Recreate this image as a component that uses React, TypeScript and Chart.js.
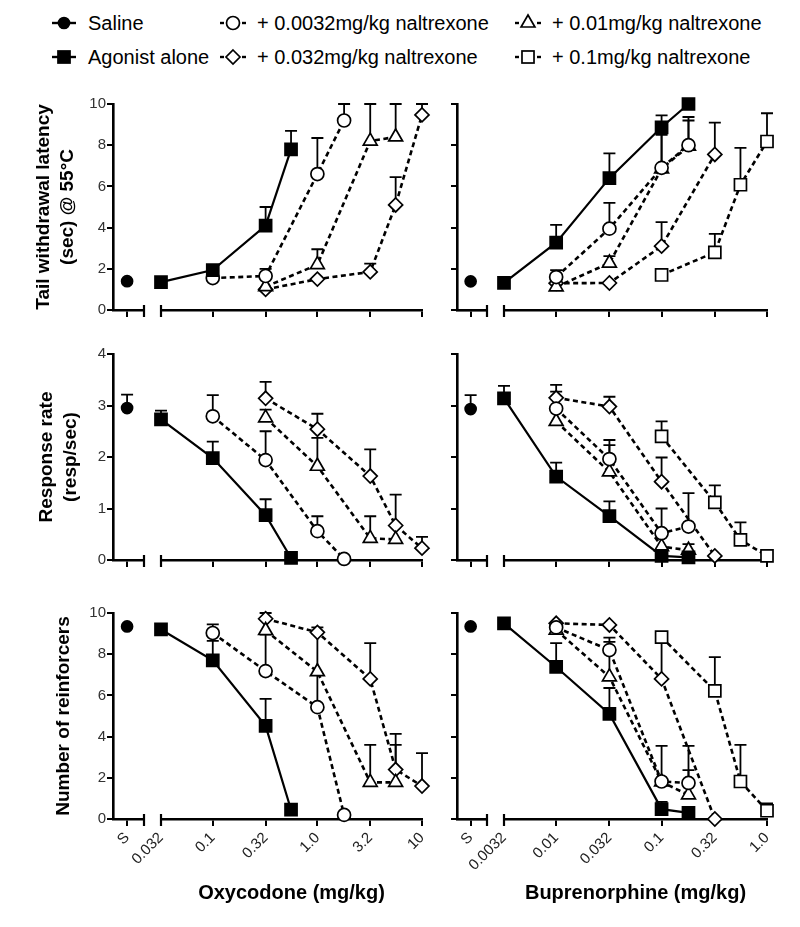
import React, { useEffect, useRef } from 'react';
import { Chart, registerables } from 'chart.js';

Chart.register(...registerables);

// ---------------- Axis ticks / labels ----------------
const OXY_TICKS = [0.032, 0.1, 0.32, 1.0, 3.2, 10];
const OXY_TICK_LABELS = ['0.032', '0.1', '0.32', '1.0', '3.2', '10'];
const BUP_TICKS = [0.0032, 0.01, 0.032, 0.1, 0.32, 1.0];
const BUP_TICK_LABELS = ['0.0032', '0.01', '0.032', '0.1', '0.32', '1.0'];
const SALINE_TICK_LABELS = ['S'];
const LATENCY_TICKS = [0, 2, 4, 6, 8, 10];
const RATE_TICKS = [0, 1, 2, 3, 4];
const REINF_TICKS = [0, 2, 4, 6, 8, 10];

const LAT_TITLE = ['Tail withdrawal latency', '(sec) @ 55°C'];
const RATE_TITLE = ['Response rate', '(resp/sec)'];
const REINF_TITLE = ['Number of reinforcers'];
const OXY_X_TITLE = 'Oxycodone (mg/kg)';
const BUP_X_TITLE = 'Buprenorphine (mg/kg)';

const LEGEND_LABELS = {
  saline: 'Saline',
  agonist: 'Agonist alone',
  n0032: '+ 0.0032mg/kg naltrexone',
  n032: '+ 0.032mg/kg naltrexone',
  n01: '+ 0.01mg/kg naltrexone',
  n1: '+ 0.1mg/kg naltrexone',
};

// ---------------- Doses ----------------
const oxyAgonistDose = [0.032, 0.1, 0.32, 0.56];
const oxyNal0032Dose = [0.1, 0.32, 1.0, 1.8];
const oxyNal01Dose = [0.32, 1.0, 3.2, 5.6];
const oxyNal032Dose = [0.32, 1.0, 3.2, 5.6, 10];

const bupAgonistDose = [0.0032, 0.01, 0.032, 0.1, 0.18];
const bupNal0032Dose = [0.01, 0.032, 0.1, 0.18];
const bupNal01Dose = [0.01, 0.032, 0.1, 0.18];
const bupNal032Dose = [0.01, 0.032, 0.1, 0.32];
const bupNal1Dose = [0.1, 0.32, 0.56, 1.0];

// ---------------- Oxycodone: tail withdrawal latency ----------------
const oxyLatSaline = [1.4];
const oxyLatSalineSem = [null];
const oxyLatAgonist = [1.35, 1.94, 4.1, 7.8];
const oxyLatAgonistSem = [null, 0.21, 0.9, 0.9];
const oxyLatNal0032 = [1.55, 1.65, 6.6, 9.2];
const oxyLatNal0032Sem = [null, 0.35, 1.75, 0.8];
const oxyLatNal01 = [1.13, 2.2, 8.2, 8.4];
const oxyLatNal01Sem = [null, 0.75, 1.8, 1.6];
const oxyLatNal032 = [1.0, 1.5, 1.85, 5.1, 9.47];
const oxyLatNal032Sem = [null, null, 0.4, 1.35, 0.53];

// ---------------- Oxycodone: response rate ----------------
const oxyRateSaline = [2.95];
const oxyRateSalineSem = [0.26];
const oxyRateAgonist = [2.73, 1.98, 0.87, 0.04];
const oxyRateAgonistSem = [0.17, 0.32, 0.31, null];
const oxyRateNal0032 = [2.79, 1.94, 0.56, 0.02];
const oxyRateNal0032Sem = [0.41, 0.56, 0.29, null];
const oxyRateNal01 = [2.76, 1.82, 0.42, 0.4];
const oxyRateNal01Sem = [0.16, 0.55, 0.43, null];
const oxyRateNal032 = [3.14, 2.54, 1.63, 0.67, 0.23];
const oxyRateNal032Sem = [0.32, 0.3, 0.52, 0.6, 0.22];

// ---------------- Oxycodone: number of reinforcers ----------------
const oxyReinfSaline = [9.35];
const oxyReinfSalineSem = [null];
const oxyReinfAgonist = [9.2, 7.7, 4.52, 0.45];
const oxyReinfAgonistSem = [null, 0.95, 1.31, null];
const oxyReinfNal0032 = [9.03, 7.18, 5.43, 0.2];
const oxyReinfNal0032Sem = [0.42, 1.77, 1.57, null];
const oxyReinfNal01 = [9.15, 7.15, 1.78, 1.78];
const oxyReinfNal01Sem = [null, 1.85, 1.82, 1.82];
const oxyReinfNal032 = [9.72, 9.06, 6.8, 2.4, 1.6];
const oxyReinfNal032Sem = [0.28, 0.24, 1.74, 1.73, 1.6];

// ---------------- Buprenorphine: tail withdrawal latency ----------------
const bupLatSaline = [1.39];
const bupLatSalineSem = [null];
const bupLatAgonist = [1.32, 3.27, 6.4, 8.87, 10];
const bupLatAgonistSem = [null, 0.86, 1.2, 0.58, null];
const bupLatNal0032 = [1.6, 3.95, 6.9, 8.0];
const bupLatNal0032Sem = [0.34, 1.25, 1.6, 1.37];
const bupLatNal01 = [1.12, 2.28, 6.85, 7.95];
const bupLatNal01Sem = [null, 0.34, 2.1, 1.25];
const bupLatNal032 = [1.3, 1.31, 3.1, 7.55];
const bupLatNal032Sem = [null, null, 1.17, 1.55];
const bupLatNal1 = [1.7, 2.8, 6.08, 8.18];
const bupLatNal1Sem = [null, 0.9, 1.79, 1.37];

// ---------------- Buprenorphine: response rate ----------------
const bupRateSaline = [2.93];
const bupRateSalineSem = [0.27];
const bupRateAgonist = [3.14, 1.62, 0.85, 0.08, 0.05];
const bupRateAgonistSem = [0.24, 0.27, 0.29, null, null];
const bupRateNal0032 = [2.94, 1.96, 0.52, 0.65];
const bupRateNal0032Sem = [0.33, 0.37, 0.48, 0.65];
const bupRateNal01 = [2.69, 1.71, 0.26, 0.19];
const bupRateNal01Sem = [null, 0.52, null, 0.12];
const bupRateNal032 = [3.15, 2.98, 1.52, 0.08];
const bupRateNal032Sem = [0.25, 0.19, 0.47, null];
const bupRateNal1 = [2.4, 1.12, 0.39, 0.08];
const bupRateNal1Sem = [0.29, 0.33, 0.34, null];

// ---------------- Buprenorphine: number of reinforcers ----------------
const bupReinfSaline = [9.35];
const bupReinfSalineSem = [null];
const bupReinfAgonist = [9.5, 7.38, 5.1, 0.48, 0.3];
const bupReinfAgonistSem = [null, 1.16, 1.26, 0.35, null];
const bupReinfNal0032 = [9.3, 8.2, 1.82, 1.75];
const bupReinfNal0032Sem = [null, 0.6, 1.73, 1.8];
const bupReinfNal01 = [9.17, 6.9, 1.8, 1.17];
const bupReinfNal01Sem = [null, 1.7, null, 1.2];
const bupReinfNal032 = [9.5, 9.42, 6.8, 0.0];
const bupReinfNal032Sem = [null, null, 1.9, null];
const bupReinfNal1 = [8.83, 6.22, 1.82, 0.4];
const bupReinfNal1Sem = [null, 1.64, 1.78, 0.36];

// ---------------- Styles & layout ----------------
const FONT = '"Liberation Sans", Arial, Helvetica, sans-serif';
const DASH = [5, 3.5];
const STYLES: any = {
  saline: { pointStyle: 'circle', radius: 5.5, fill: '#000', dash: [], width: 2.2 },
  agonist: { pointStyle: 'rect', radius: 8.5, fill: '#000', dash: [], width: 2.2 },
  n0032: { pointStyle: 'circle', radius: 6.5, fill: '#fff', dash: DASH, width: 2.6 },
  n01: { pointStyle: 'triangle', radius: 8, fill: '#fff', dash: DASH, width: 2.6 },
  n032: { pointStyle: 'rectRot', radius: 7, fill: '#fff', dash: DASH, width: 2.6 },
  n1: { pointStyle: 'rect', radius: 8.5, fill: '#fff', dash: DASH, width: 2.6 },
};

const ROWS = [
  { top: 104, bottom: 310, titlePad: 32 },
  { top: 354, bottom: 560, titlePad: 35 },
  { top: 613, bottom: 819, titlePad: 52 },
];
const COLS = [
  { yAxis: 113, salEnd: 144, mainStart: 161, mainEnd: 422, salCanvasLeft: 0 },
  { yAxis: 457, salEnd: 487, mainStart: 504, mainEnd: 767, salCanvasLeft: 420 },
];
const PAD_T = 16;
const PAD_B = 4;
const MAIN_PAD_L = 50;
const MAIN_PAD_R = 16;
const XH = 8;
const XH_BOTTOM = 88;

type Series = { key: string; dose: number[]; mean: number[]; sem: (number | null)[] };
type Panel = {
  row: number;
  col: number;
  yTicks: number[];
  yTitle: string[] | null;
  xTicks: number[];
  xLabels: string[];
  xTitle: string;
  saline: number[];
  salineSem: (number | null)[];
  series: Series[];
};

const PANELS: Panel[] = [
  {
    row: 0, col: 0, yTicks: LATENCY_TICKS, yTitle: LAT_TITLE, xTicks: OXY_TICKS, xLabels: OXY_TICK_LABELS, xTitle: OXY_X_TITLE,
    saline: oxyLatSaline, salineSem: oxyLatSalineSem,
    series: [
      { key: 'agonist', dose: oxyAgonistDose, mean: oxyLatAgonist, sem: oxyLatAgonistSem },
      { key: 'n0032', dose: oxyNal0032Dose, mean: oxyLatNal0032, sem: oxyLatNal0032Sem },
      { key: 'n01', dose: oxyNal01Dose, mean: oxyLatNal01, sem: oxyLatNal01Sem },
      { key: 'n032', dose: oxyNal032Dose, mean: oxyLatNal032, sem: oxyLatNal032Sem },
    ],
  },
  {
    row: 0, col: 1, yTicks: LATENCY_TICKS, yTitle: null, xTicks: BUP_TICKS, xLabels: BUP_TICK_LABELS, xTitle: BUP_X_TITLE,
    saline: bupLatSaline, salineSem: bupLatSalineSem,
    series: [
      { key: 'agonist', dose: bupAgonistDose, mean: bupLatAgonist, sem: bupLatAgonistSem },
      { key: 'n0032', dose: bupNal0032Dose, mean: bupLatNal0032, sem: bupLatNal0032Sem },
      { key: 'n01', dose: bupNal01Dose, mean: bupLatNal01, sem: bupLatNal01Sem },
      { key: 'n032', dose: bupNal032Dose, mean: bupLatNal032, sem: bupLatNal032Sem },
      { key: 'n1', dose: bupNal1Dose, mean: bupLatNal1, sem: bupLatNal1Sem },
    ],
  },
  {
    row: 1, col: 0, yTicks: RATE_TICKS, yTitle: RATE_TITLE, xTicks: OXY_TICKS, xLabels: OXY_TICK_LABELS, xTitle: OXY_X_TITLE,
    saline: oxyRateSaline, salineSem: oxyRateSalineSem,
    series: [
      { key: 'agonist', dose: oxyAgonistDose, mean: oxyRateAgonist, sem: oxyRateAgonistSem },
      { key: 'n0032', dose: oxyNal0032Dose, mean: oxyRateNal0032, sem: oxyRateNal0032Sem },
      { key: 'n01', dose: oxyNal01Dose, mean: oxyRateNal01, sem: oxyRateNal01Sem },
      { key: 'n032', dose: oxyNal032Dose, mean: oxyRateNal032, sem: oxyRateNal032Sem },
    ],
  },
  {
    row: 1, col: 1, yTicks: RATE_TICKS, yTitle: null, xTicks: BUP_TICKS, xLabels: BUP_TICK_LABELS, xTitle: BUP_X_TITLE,
    saline: bupRateSaline, salineSem: bupRateSalineSem,
    series: [
      { key: 'agonist', dose: bupAgonistDose, mean: bupRateAgonist, sem: bupRateAgonistSem },
      { key: 'n0032', dose: bupNal0032Dose, mean: bupRateNal0032, sem: bupRateNal0032Sem },
      { key: 'n01', dose: bupNal01Dose, mean: bupRateNal01, sem: bupRateNal01Sem },
      { key: 'n032', dose: bupNal032Dose, mean: bupRateNal032, sem: bupRateNal032Sem },
      { key: 'n1', dose: bupNal1Dose, mean: bupRateNal1, sem: bupRateNal1Sem },
    ],
  },
  {
    row: 2, col: 0, yTicks: REINF_TICKS, yTitle: REINF_TITLE, xTicks: OXY_TICKS, xLabels: OXY_TICK_LABELS, xTitle: OXY_X_TITLE,
    saline: oxyReinfSaline, salineSem: oxyReinfSalineSem,
    series: [
      { key: 'agonist', dose: oxyAgonistDose, mean: oxyReinfAgonist, sem: oxyReinfAgonistSem },
      { key: 'n0032', dose: oxyNal0032Dose, mean: oxyReinfNal0032, sem: oxyReinfNal0032Sem },
      { key: 'n01', dose: oxyNal01Dose, mean: oxyReinfNal01, sem: oxyReinfNal01Sem },
      { key: 'n032', dose: oxyNal032Dose, mean: oxyReinfNal032, sem: oxyReinfNal032Sem },
    ],
  },
  {
    row: 2, col: 1, yTicks: REINF_TICKS, yTitle: null, xTicks: BUP_TICKS, xLabels: BUP_TICK_LABELS, xTitle: BUP_X_TITLE,
    saline: bupReinfSaline, salineSem: bupReinfSalineSem,
    series: [
      { key: 'agonist', dose: bupAgonistDose, mean: bupReinfAgonist, sem: bupReinfAgonistSem },
      { key: 'n0032', dose: bupNal0032Dose, mean: bupReinfNal0032, sem: bupReinfNal0032Sem },
      { key: 'n01', dose: bupNal01Dose, mean: bupReinfNal01, sem: bupReinfNal01Sem },
      { key: 'n032', dose: bupNal032Dose, mean: bupReinfNal032, sem: bupReinfNal032Sem },
      { key: 'n1', dose: bupNal1Dose, mean: bupReinfNal1, sem: bupReinfNal1Sem },
    ],
  },
];

// ---------------- Plugins ----------------
const errorBarPlugin = {
  id: 'errorBars',
  beforeDatasetsDraw(chart: any) {
    const ctx = chart.ctx;
    const yScale = chart.scales.y;
    chart.data.datasets.forEach((ds: any, i: number) => {
      if (!ds.sem) return;
      const meta = chart.getDatasetMeta(i);
      meta.data.forEach((pt: any, j: number) => {
        const s = ds.sem[j];
        if (s == null) return;
        const top = yScale.getPixelForValue(ds.data[j].y + s);
        ctx.save();
        ctx.strokeStyle = '#000';
        ctx.lineWidth = 1.8;
        ctx.setLineDash([]);
        ctx.beginPath();
        ctx.moveTo(pt.x, pt.y);
        ctx.lineTo(pt.x, top);
        ctx.moveTo(pt.x - 6, top);
        ctx.lineTo(pt.x + 6, top);
        ctx.stroke();
        ctx.restore();
      });
    });
  },
};

const axisCapPlugin = {
  id: 'axisCaps',
  afterDraw(chart: any, _args: any, opts: any) {
    if (!opts || !opts.side) return;
    const { ctx, chartArea } = chart;
    const x = opts.side === 'left' ? chartArea.left : chartArea.right;
    ctx.save();
    ctx.strokeStyle = '#000';
    ctx.lineWidth = 2.2;
    ctx.beginPath();
    ctx.moveTo(x, chartArea.bottom - 5);
    ctx.lineTo(x, chartArea.bottom + 7);
    ctx.stroke();
    ctx.restore();
  },
};

function makeDataset(key: string, dose: number[], mean: number[], sem: (number | null)[], showLine: boolean) {
  const st = STYLES[key];
  return {
    type: 'line',
    data: dose.map((d, i) => ({ x: d, y: mean[i] })),
    sem,
    showLine,
    borderColor: '#000',
    borderWidth: st.width,
    borderDash: st.dash,
    pointStyle: st.pointStyle,
    pointRadius: st.radius,
    pointHoverRadius: st.radius,
    pointBackgroundColor: st.fill,
    pointBorderColor: '#000',
    pointBorderWidth: 1.7,
    fill: false,
    tension: 0,
    clip: false,
  };
}

function yScaleConfig(p: Panel, width: number, withLabels: boolean) {
  const pad = ROWS[p.row].titlePad;
  return {
    type: 'linear',
    display: true,
    min: p.yTicks[0],
    max: p.yTicks[p.yTicks.length - 1],
    afterBuildTicks: (s: any) => {
      s.ticks = p.yTicks.map((v) => ({ value: v }));
      s.min = p.yTicks[0];
      s.max = p.yTicks[p.yTicks.length - 1];
    },
    afterFit: (s: any) => {
      s.width = width;
      s.paddingTop = 0;
      s.paddingBottom = 0;
    },
    grid: { display: true, drawOnChartArea: false, drawTicks: true, tickLength: 6, color: '#000', lineWidth: 2 },
    border: { display: true, color: '#000', width: 2.6 },
    ticks: {
      display: withLabels,
      padding: 1,
      color: '#333',
      font: { family: FONT, size: 15 },
      callback: (v: any) => String(v),
    },
    title: {
      display: !!p.yTitle && withLabels,
      text: p.yTitle || '',
      color: '#000',
      font: { family: FONT, size: 19, weight: 'bold', lineHeight: 1.25 },
      padding: { top: pad, bottom: 0 },
    },
  };
}

function salineConfig(p: Panel) {
  const col = COLS[p.col];
  const row = ROWS[p.row];
  const isBottom = p.row === 2;
  const xh = isBottom ? XH_BOTTOM : XH;
  const width = col.salEnd + 8 - col.salCanvasLeft;
  const height = row.bottom - row.top + PAD_T + xh + PAD_B;
  const config = {
    type: 'line',
    data: { datasets: [makeDataset('saline', [1], p.saline, p.salineSem, false)] },
    plugins: [errorBarPlugin, axisCapPlugin],
    options: {
      responsive: false,
      animation: false,
      events: [],
      layout: { padding: { left: 0, right: 8, top: PAD_T, bottom: PAD_B } },
      plugins: { legend: { display: false }, tooltip: { enabled: false }, axisCaps: { side: 'right' } },
      scales: {
        x: {
          type: 'linear',
          min: 0,
          max: 2.2,
          afterBuildTicks: (s: any) => {
            s.ticks = [{ value: 1 }];
            s.min = 0;
            s.max = 2.2;
          },
          afterFit: (s: any) => {
            s.height = xh;
            s.paddingLeft = 0;
            s.paddingRight = 0;
          },
          grid: { display: true, drawOnChartArea: false, drawTicks: true, tickLength: 7, color: '#000', lineWidth: 2 },
          border: { display: true, color: '#000', width: 2.6 },
          ticks: {
            display: isBottom,
            autoSkip: false,
            minRotation: 45,
            maxRotation: 45,
            padding: 3,
            color: '#222',
            font: { family: FONT, size: 15 },
            callback: (_v: any, i: number) => SALINE_TICK_LABELS[i],
          },
        },
        y: yScaleConfig(p, col.yAxis - col.salCanvasLeft, p.col === 0),
      },
    },
  };
  return { left: col.salCanvasLeft, top: row.top - PAD_T, width, height, config };
}

function mainConfig(p: Panel) {
  const col = COLS[p.col];
  const row = ROWS[p.row];
  const isBottom = p.row === 2;
  const xh = isBottom ? XH_BOTTOM : XH;
  const left = col.mainStart - MAIN_PAD_L;
  const width = col.mainEnd + MAIN_PAD_R - left;
  const height = row.bottom - row.top + PAD_T + xh + PAD_B;
  const t = p.xTicks;
  const config = {
    type: 'line',
    data: { datasets: p.series.map((s) => makeDataset(s.key, s.dose, s.mean, s.sem, true)) },
    plugins: [errorBarPlugin, axisCapPlugin],
    options: {
      responsive: false,
      animation: false,
      events: [],
      layout: { padding: { left: MAIN_PAD_L, right: MAIN_PAD_R, top: PAD_T, bottom: PAD_B } },
      plugins: { legend: { display: false }, tooltip: { enabled: false }, axisCaps: { side: 'left' } },
      scales: {
        x: {
          type: 'logarithmic',
          min: t[0],
          max: t[t.length - 1],
          afterBuildTicks: (s: any) => {
            s.ticks = t.map((v) => ({ value: v }));
            s.min = t[0];
            s.max = t[t.length - 1];
          },
          afterFit: (s: any) => {
            s.height = xh;
            s.paddingLeft = 0;
            s.paddingRight = 0;
          },
          grid: { display: true, drawOnChartArea: false, drawTicks: true, tickLength: 7, color: '#000', lineWidth: 2 },
          border: { display: true, color: '#000', width: 2.6 },
          ticks: {
            display: isBottom,
            autoSkip: false,
            minRotation: 45,
            maxRotation: 45,
            padding: 3,
            color: '#222',
            font: { family: FONT, size: 15 },
            callback: (_v: any, i: number) => p.xLabels[i],
          },
          title: {
            display: isBottom,
            text: p.xTitle,
            color: '#000',
            font: { family: FONT, size: 20, weight: 'bold', lineHeight: 1.2 },
            padding: { top: 0, bottom: 2 },
          },
        },
        y: {
          type: 'linear',
          display: false,
          min: p.yTicks[0],
          max: p.yTicks[p.yTicks.length - 1],
        },
      },
    },
  };
  return { left, top: row.top - PAD_T, width, height, config };
}

// ---------------- Components ----------------
function ChartBox({ spec }: { spec: any }) {
  const ref = useRef<HTMLCanvasElement | null>(null);
  useEffect(() => {
    if (!ref.current) return;
    const chart = new Chart(ref.current, spec.config as any);
    return () => chart.destroy();
  }, []);
  return (
    <div style={{ position: 'absolute', left: spec.left, top: spec.top, width: spec.width, height: spec.height }}>
      <canvas ref={ref} width={spec.width} height={spec.height} style={{ width: spec.width, height: spec.height, display: 'block' }} />
    </div>
  );
}

function LegendMarker({ kind }: { kind: string }) {
  const st = STYLES[kind];
  const cx = 15;
  const cy = 10;
  const dashed = st.dash.length > 0;
  let shape: any = null;
  const common = { fill: st.fill, stroke: '#000', strokeWidth: 1.7 };
  if (st.pointStyle === 'circle') {
    shape = <circle cx={cx} cy={cy} r={st.radius} {...common} />;
  } else if (st.pointStyle === 'rect') {
    const h = st.radius * Math.SQRT1_2;
    shape = <rect x={cx - h} y={cy - h} width={2 * h} height={2 * h} {...common} />;
  } else if (st.pointStyle === 'rectRot') {
    const r = st.radius;
    shape = <polygon points={`${cx},${cy - r} ${cx + r},${cy} ${cx},${cy + r} ${cx - r},${cy}`} {...common} />;
  } else if (st.pointStyle === 'triangle') {
    const r = st.radius;
    const dx = r * Math.sin((2 * Math.PI) / 3);
    shape = <polygon points={`${cx},${cy - r} ${cx + dx},${cy + r / 2} ${cx - dx},${cy + r / 2}`} {...common} />;
  }
  return (
    <svg width={30} height={20} style={{ display: 'block' }}>
      {dashed ? (
        <g stroke="#000" strokeWidth={2.4}>
          <line x1={2} y1={cy} x2={6} y2={cy} />
          <line x1={24} y1={cy} x2={28} y2={cy} />
        </g>
      ) : (
        <line x1={3} y1={cy} x2={27} y2={cy} stroke="#000" strokeWidth={2.4} />
      )}
      {shape}
    </svg>
  );
}

const LEGEND_POS = [
  { kind: 'saline', x: 64, y: 23 },
  { kind: 'agonist', x: 64, y: 57 },
  { kind: 'n0032', x: 233, y: 23 },
  { kind: 'n032', x: 233, y: 57 },
  { kind: 'n01', x: 528, y: 23 },
  { kind: 'n1', x: 528, y: 57 },
];

function Legend() {
  return (
    <>
      {LEGEND_POS.map((it) => (
        <div
          key={it.kind}
          style={{
            position: 'absolute',
            left: it.x - 15,
            top: it.y - 12,
            height: 24,
            display: 'flex',
            alignItems: 'center',
            whiteSpace: 'nowrap',
            fontFamily: FONT,
            fontSize: 20,
            color: '#000',
          }}
        >
          <LegendMarker kind={it.kind} />
          <span style={{ marginLeft: 9 }}>{(LEGEND_LABELS as any)[it.kind]}</span>
        </div>
      ))}
    </>
  );
}

export default function App() {
  const specs: any[] = [];
  PANELS.forEach((p) => {
    specs.push(salineConfig(p));
    specs.push(mainConfig(p));
  });
  return (
    <div style={{ position: 'absolute', left: 0, top: 0, width: 800, height: 927, background: '#fff', overflow: 'hidden' }}>
      <Legend />
      {specs.map((s, i) => (
        <ChartBox key={i} spec={s} />
      ))}
    </div>
  );
}
